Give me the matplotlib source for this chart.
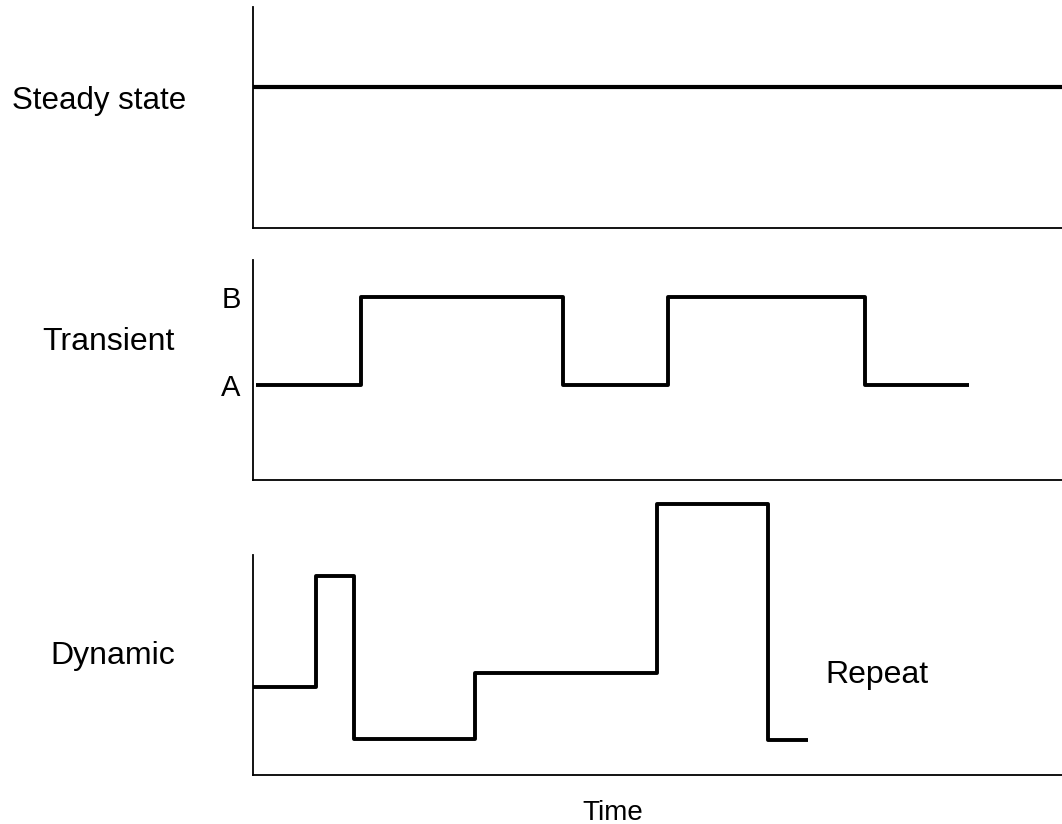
import matplotlib.pyplot as plt

plt.rcParams['font.family'] = ['Liberation Sans', 'DejaVu Sans']

# --- данные (время в условных единицах 0..100, уровень 0..10) ---
steady_t = [0, 100]
steady_y = [6.4, 6.4]

trans_t = [0.4, 13.4, 13.4, 38.3, 38.3, 51.3, 51.3, 75.6, 75.6, 88.5]
trans_y = [4.3, 4.3, 8.3, 8.3, 4.3, 4.3, 8.3, 8.3, 4.3, 4.3]
trans_ticks = [4.3, 8.3]
trans_labels = ['A', 'B']

dyn_t = [0, 7.8, 7.8, 12.5, 12.5, 27.4, 27.4, 49.9, 49.9, 63.7, 63.7, 68.6]
dyn_y = [4.0, 4.0, 9.05, 9.05, 1.64, 1.64, 4.64, 4.64, 12.3, 12.3, 1.6, 1.6]

row_names = ['Steady state', 'Transient', 'Dynamic']

W, H = 1062, 824
fig = plt.figure(figsize=(W / 100, H / 100), dpi=100)


def make_ax(top, bottom):
    ax = fig.add_axes([253 / W, 1 - bottom / H, (W - 253) / W, (bottom - top) / H])
    ax.set_xlim(0, 100)
    ax.set_ylim(0, 10)
    for s in ['top', 'right']:
        ax.spines[s].set_visible(False)
    for s in ['left', 'bottom']:
        ax.spines[s].set_linewidth(1.3)
    ax.set_xticks([])
    ax.set_yticks([])
    return ax


ax1 = make_ax(7, 228)
ax1.plot(steady_t, steady_y, color='black', lw=3.0, solid_capstyle='butt')

ax2 = make_ax(260, 480)
ax2.plot(trans_t, trans_y, color='black', lw=2.8, solid_capstyle='butt')
ax2.set_yticks(trans_ticks)
ax2.set_yticklabels(trans_labels, fontsize=21)
ax2.tick_params(axis='y', length=0, pad=9)

ax3 = make_ax(555, 775)
ax3.plot(dyn_t, dyn_y, color='black', lw=2.8, clip_on=False, solid_capstyle='butt')
ax3.text(70.7, 4.18, 'Repeat', fontsize=23, va='baseline', ha='left')

# подписи строк слева
fig.text(12 / W, 1 - 109 / H, row_names[0], fontsize=22.5, va='baseline', ha='left')
fig.text(42 / W, 1 - 350 / H, row_names[1], fontsize=23, va='baseline', ha='left')
fig.text(50 / W, 1 - 664 / H, row_names[2], fontsize=23, va='baseline', ha='left')
fig.text(613 / W, 1 - 820 / H, 'Time', fontsize=20, va='baseline', ha='center')

plt.savefig('out.png', dpi=100)
